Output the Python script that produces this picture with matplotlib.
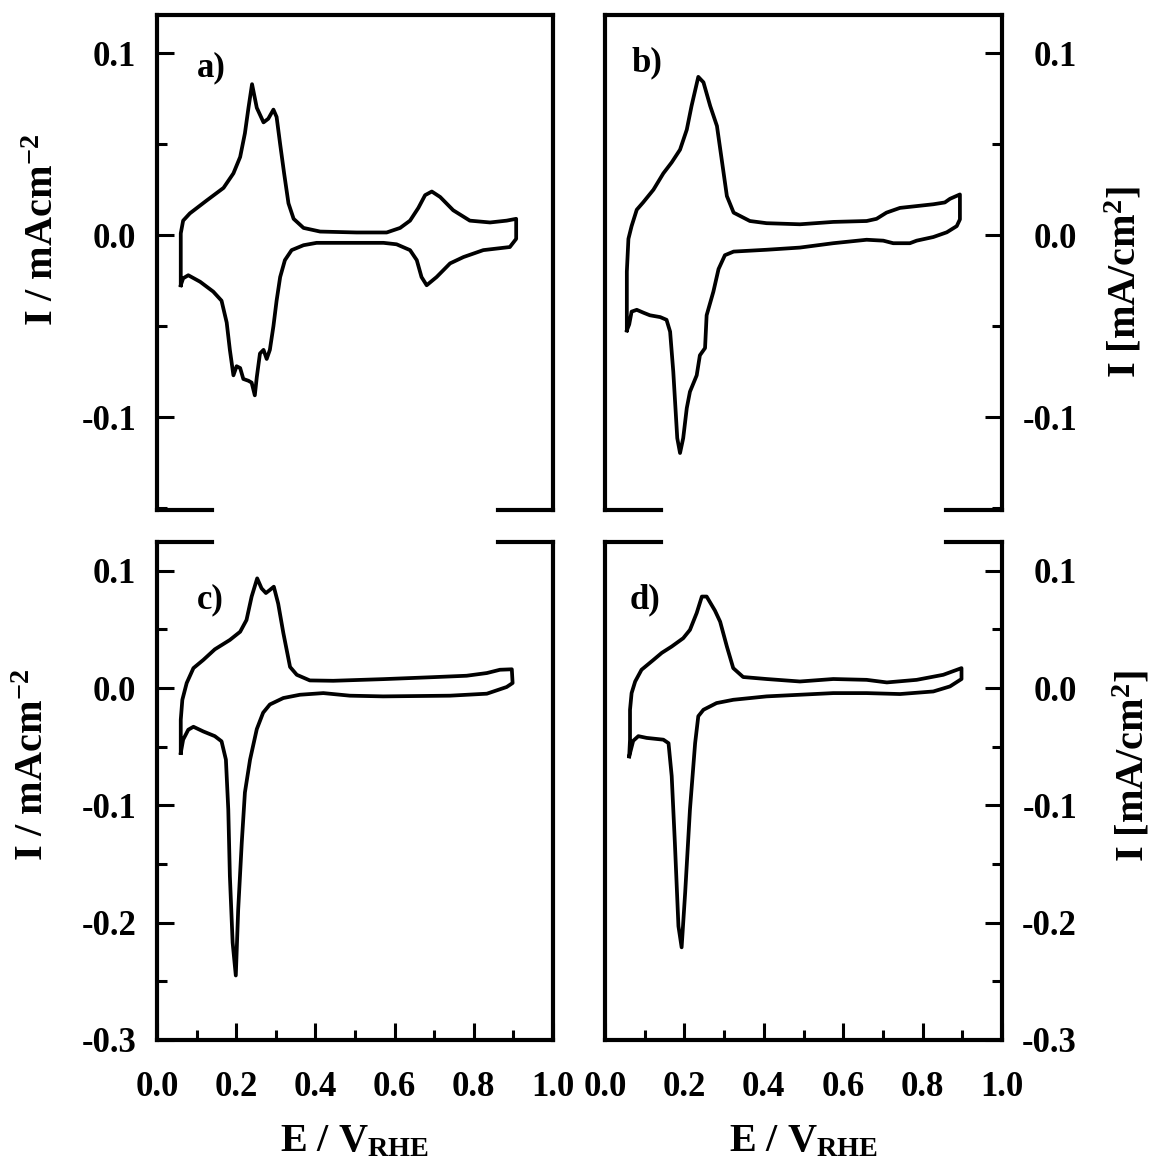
import matplotlib
matplotlib.use("Agg")
import matplotlib.pyplot as plt
from matplotlib.ticker import MultipleLocator, FormatStrFormatter

plt.rcParams['font.family'] = 'Liberation Serif'
plt.rcParams['font.weight'] = 'bold'
plt.rcParams['axes.unicode_minus'] = False
plt.rcParams['mathtext.fontset'] = 'custom'
plt.rcParams['mathtext.rm'] = 'Liberation Serif:bold'
plt.rcParams['mathtext.bf'] = 'Liberation Serif:bold'
plt.rcParams['mathtext.it'] = 'Liberation Serif:bold'

# CV curves: (E / V_RHE, I)
cv_a = [(0.060, -0.0275), (0.060, 0.001), (0.066, 0.008), (0.083, 0.012), (0.125, 0.019),
        (0.168, 0.026), (0.193, 0.034), (0.210, 0.043), (0.222, 0.056), (0.231, 0.070),
        (0.240, 0.083), (0.252, 0.070), (0.269, 0.062), (0.281, 0.064), (0.294, 0.069),
        (0.302, 0.065), (0.311, 0.050), (0.321, 0.034), (0.332, 0.0175), (0.345, 0.009),
        (0.370, 0.004), (0.412, 0.002), (0.504, 0.0015), (0.580, 0.0015), (0.614, 0.004),
        (0.639, 0.008), (0.660, 0.015), (0.677, 0.022), (0.694, 0.024), (0.715, 0.021),
        (0.748, 0.0137), (0.790, 0.008), (0.841, 0.007), (0.883, 0.008), (0.907, 0.009),
        (0.907, -0.002), (0.891, -0.0065), (0.824, -0.0082), (0.774, -0.012), (0.740, -0.0155),
        (0.706, -0.023), (0.681, -0.0275), (0.668, -0.023), (0.656, -0.0137), (0.639, -0.0082),
        (0.605, -0.005), (0.572, -0.0042), (0.403, -0.0042), (0.370, -0.0055), (0.340, -0.0082),
        (0.323, -0.0137), (0.311, -0.023), (0.302, -0.036), (0.294, -0.050), (0.285, -0.063),
        (0.277, -0.068), (0.269, -0.063), (0.260, -0.065), (0.252, -0.078), (0.247, -0.088),
        (0.239, -0.081), (0.231, -0.080), (0.218, -0.079), (0.210, -0.073), (0.201, -0.072),
        (0.193, -0.077), (0.184, -0.063), (0.176, -0.048), (0.163, -0.036), (0.142, -0.031),
        (0.109, -0.0256), (0.079, -0.022), (0.066, -0.0237), (0.060, -0.0275)]

cv_b = [(0.055, -0.0523), (0.055, -0.020), (0.059, -0.002), (0.067, 0.005), (0.080, 0.014),
        (0.096, 0.018), (0.122, 0.025), (0.147, 0.034), (0.168, 0.040), (0.189, 0.047),
        (0.206, 0.058), (0.218, 0.071), (0.235, 0.087), (0.248, 0.084), (0.265, 0.071),
        (0.282, 0.060), (0.295, 0.040), (0.307, 0.0215), (0.324, 0.0124), (0.365, 0.0078),
        (0.407, 0.0066), (0.491, 0.006), (0.575, 0.0073), (0.659, 0.0078), (0.684, 0.009),
        (0.709, 0.0124), (0.743, 0.015), (0.785, 0.016), (0.827, 0.017), (0.856, 0.018),
        (0.869, 0.020), (0.894, 0.0224), (0.894, 0.0087), (0.886, 0.005), (0.861, 0.0016),
        (0.827, -0.001), (0.785, -0.003), (0.768, -0.0044), (0.726, -0.0044), (0.701, -0.003),
        (0.659, -0.0025), (0.575, -0.0044), (0.491, -0.0068), (0.407, -0.008), (0.324, -0.009),
        (0.302, -0.011), (0.286, -0.0186), (0.273, -0.031), (0.256, -0.044), (0.252, -0.062),
        (0.239, -0.066), (0.231, -0.077), (0.214, -0.086), (0.206, -0.095), (0.197, -0.1115),
        (0.189, -0.1197), (0.182, -0.1115), (0.172, -0.075), (0.164, -0.053), (0.155, -0.0465),
        (0.139, -0.045), (0.113, -0.044), (0.097, -0.0426), (0.080, -0.041), (0.067, -0.042),
        (0.061, -0.049), (0.055, -0.0523)]

cv_c = [(0.060, -0.0553), (0.060, -0.027), (0.064, -0.010), (0.075, 0.0043), (0.092, 0.017),
        (0.117, 0.024), (0.146, 0.033), (0.184, 0.041), (0.210, 0.048), (0.226, 0.058),
        (0.239, 0.078), (0.253, 0.0935), (0.264, 0.085), (0.275, 0.081), (0.285, 0.0836),
        (0.295, 0.0864), (0.306, 0.072), (0.319, 0.047), (0.336, 0.018), (0.353, 0.0113),
        (0.386, 0.0065), (0.445, 0.0062), (0.571, 0.0076), (0.698, 0.0093), (0.782, 0.0105),
        (0.833, 0.0128), (0.866, 0.0156), (0.896, 0.016), (0.898, 0.0043), (0.883, 0.0009),
        (0.833, -0.0048), (0.740, -0.0065), (0.571, -0.0071), (0.487, -0.0065), (0.420, -0.0043),
        (0.361, -0.0057), (0.319, -0.0085), (0.285, -0.014), (0.268, -0.021), (0.252, -0.035),
        (0.235, -0.061), (0.222, -0.089), (0.214, -0.132), (0.205, -0.189), (0.199, -0.245),
        (0.191, -0.217), (0.184, -0.160), (0.180, -0.1035), (0.174, -0.061), (0.163, -0.0454),
        (0.146, -0.041), (0.117, -0.037), (0.092, -0.033), (0.079, -0.0355), (0.066, -0.044),
        (0.060, -0.0553)]

cv_d = [(0.061, -0.0582), (0.063, -0.044), (0.063, -0.0185), (0.067, -0.0043), (0.076, 0.0056),
        (0.092, 0.0156), (0.122, 0.024), (0.143, 0.030), (0.168, 0.0354), (0.197, 0.0425),
        (0.214, 0.0496), (0.231, 0.064), (0.244, 0.078), (0.256, 0.078), (0.277, 0.066),
        (0.290, 0.0566), (0.307, 0.0354), (0.323, 0.017), (0.348, 0.0094), (0.407, 0.0077),
        (0.491, 0.0056), (0.575, 0.0077), (0.659, 0.007), (0.710, 0.0048), (0.785, 0.007),
        (0.852, 0.0113), (0.898, 0.017), (0.898, 0.0077), (0.869, 0.0014), (0.827, -0.0029),
        (0.743, -0.0051), (0.659, -0.0043), (0.575, -0.0043), (0.491, -0.0057), (0.407, -0.0071),
        (0.323, -0.010), (0.281, -0.0128), (0.248, -0.0185), (0.235, -0.024), (0.227, -0.047),
        (0.214, -0.1035), (0.202, -0.174), (0.193, -0.221), (0.185, -0.203), (0.176, -0.132),
        (0.168, -0.075), (0.160, -0.047), (0.147, -0.044), (0.105, -0.0425), (0.084, -0.041),
        (0.071, -0.045), (0.061, -0.0582)]

panel_letters = ['a)', 'b)', 'c)', 'd)']
ylim_top = (-0.151, 0.121)
ylim_bottom = (-0.3, 0.1245)
left_ylabel = 'I / mAcm$^{-2}$'
right_ylabel = 'I [mA/cm$^{2}$]'
xlabel = 'E / V$_{\\mathrm{RHE}}$'

W, H = 1157, 1173
fig = plt.figure(figsize=(W / 100, H / 100), dpi=100)

ax_a = fig.add_axes([157 / W, 1 - 510 / H, 396 / W, 495 / H])
ax_b = fig.add_axes([605 / W, 1 - 510 / H, 397 / W, 495 / H])
ax_c = fig.add_axes([157 / W, 1 - 1040 / H, 396 / W, 498 / H])
ax_d = fig.add_axes([605 / W, 1 - 1040 / H, 397 / W, 498 / H])

axes = [ax_a, ax_b, ax_c, ax_d]
curves = [cv_a, cv_b, cv_c, cv_d]
letter_pos = [(0.101, 0.893), (0.068, 0.903), (0.100, 0.884), (0.063, 0.884)]

for i, ax in enumerate(axes):
    E = [p[0] for p in curves[i]]
    I = [p[1] for p in curves[i]]
    ax.plot(E, I, color='black', lw=2.7, solid_joinstyle='round')
    ax.set_xlim(0, 1.0)
    ax.set_ylim(ylim_top if i < 2 else ylim_bottom)

    for s in ax.spines.values():
        s.set_linewidth(3)

    ax.yaxis.set_major_locator(MultipleLocator(0.1))
    ax.yaxis.set_minor_locator(MultipleLocator(0.05))
    ax.yaxis.set_major_formatter(FormatStrFormatter('%.1f'))
    ax.xaxis.set_major_locator(MultipleLocator(0.2))
    ax.xaxis.set_minor_locator(MultipleLocator(0.1))
    ax.xaxis.set_major_formatter(FormatStrFormatter('%.1f'))

    ax.tick_params(which='major', direction='in', length=12, width=2.2, labelsize=25)
    ax.tick_params(which='minor', direction='in', length=7.5, width=2.2)
    ax.tick_params(axis='x', top=False, which='both', pad=22)

    # broken frame between the upper and lower rows: only short stubs at the corners
    edge = 0 if i < 2 else 1
    spine = 'bottom' if i < 2 else 'top'
    ax.spines[spine].set_visible(False)
    for x0, x1 in [(0, 0.14), (0.86, 1.0)]:
        ax.plot([x0, x1], [edge, edge], transform=ax.transAxes, color='black',
                lw=3, clip_on=False, solid_capstyle='projecting')

    if i < 2:
        ax.tick_params(axis='x', which='both', bottom=False, labelbottom=False)
    else:
        ax.set_xlabel(xlabel, fontsize=29, fontweight='bold', labelpad=14)

    if i % 2 == 0:
        ax.tick_params(axis='y', which='both', left=True, right=False, pad=15)
        ax.set_ylabel(left_ylabel, fontsize=29, fontweight='bold')
    else:
        ax.yaxis.tick_right()
        ax.tick_params(axis='y', which='both', left=False, right=True, pad=54)
        ax.yaxis.set_label_position('right')
        ax.set_ylabel(right_ylabel, fontsize=29, fontweight='bold')

    ax.text(letter_pos[i][0], letter_pos[i][1], panel_letters[i], transform=ax.transAxes,
            fontsize=25, fontweight='bold', ha='left', va='center')

ax_a.yaxis.set_label_coords(-0.24, 0.566)
ax_c.yaxis.set_label_coords(-0.265, 0.552)
ax_b.yaxis.set_label_coords(1.257, 0.46)
ax_d.yaxis.set_label_coords(1.277, 0.55)

fig.canvas.draw()
for ax in (ax_b, ax_d):
    for lbl in ax.get_yticklabels():
        lbl.set_horizontalalignment('right')

fig.savefig('out.png', dpi=100)
